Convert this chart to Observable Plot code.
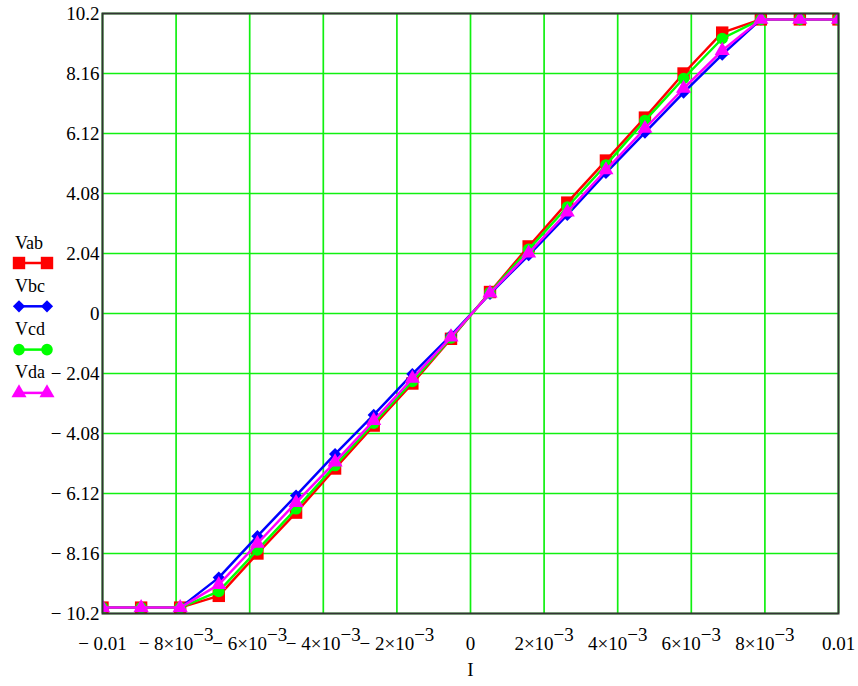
<!DOCTYPE html>
<html><head><meta charset="utf-8">
<script src="https://cdn.jsdelivr.net/npm/d3@7"></script>
<script src="https://cdn.jsdelivr.net/npm/@observablehq/plot@0.6"></script>
<style>
html,body{margin:0;padding:0;background:#fff;}
#chart{position:relative;width:858px;height:686px;}
#legend{position:absolute;left:0;top:0;pointer-events:none;}
</style></head><body><div id="chart"></div>
<script>
// ---- data ----
const I = [-0.01, -0.00895, -0.00789, -0.00684, -0.00579, -0.00474, -0.00368, -0.00263, -0.00158, -0.00053,
           0.00053, 0.00158, 0.00263, 0.00368, 0.00474, 0.00579, 0.00684, 0.00789, 0.00895, 0.01];
const Vab = [-10, -10, -10, -9.6, -8.16, -6.77, -5.27, -3.81, -2.38, -0.86, 0.73, 2.28, 3.77, 5.2, 6.66, 8.16, 9.55, 10, 10, 10];
const Vbc = [-10, -10, -10, -8.98, -7.57, -6.19, -4.78, -3.45, -2.06, -0.74, 0.67, 1.98, 3.35, 4.78, 6.15, 7.51, 8.8, 10, 10, 10];
const Vcd = [-10, -10, -10, -9.45, -8.04, -6.64, -5.17, -3.73, -2.31, -0.83, 0.71, 2.18, 3.62, 5.05, 6.56, 7.99, 9.35, 10, 10, 10];
const Vda = [-10, -10, -10, -9.22, -7.82, -6.43, -5.05, -3.64, -2.21, -0.8, 0.69, 2.05, 3.45, 4.88, 6.29, 7.65, 8.94, 10, 10, 10];

const seriesNames = ["Vab", "Vbc", "Vcd", "Vda"];
const seriesColors = ["#ff0000", "#0000ff", "#00ff00", "#ff00ff"];
const seriesSymbols = ["square", "diamond2", "circle", "triangle"];
const seriesR = [7, 5.5, 5.8, 5.6];

const xTicks = [-0.01, -0.008, -0.006, -0.004, -0.002, 0, 0.002, 0.004, 0.006, 0.008, 0.01];
const xTickLabels = ["\u2212 0.01", "\u2212 8×10^\u22123", "\u2212 6×10^\u22123", "\u2212 4×10^\u22123", "\u2212 2×10^\u22123",
                     "0", "2×10^\u22123", "4×10^\u22123", "6×10^\u22123", "8×10^\u22123", "0.01"];
const yTicks = [-10.2, -8.16, -6.12, -4.08, -2.04, 0, 2.04, 4.08, 6.12, 8.16, 10.2];
const yTickLabels = ["\u2212 10.2", "\u2212 8.16", "\u2212 6.12", "\u2212 4.08", "\u2212 2.04", "0",
                     "2.04", "4.08", "6.12", "8.16", "10.2"];
const xAxisLabel = "I";

// ---- build ----
const FONT = "'Liberation Serif', 'Times New Roman', serif";
const gridColor = "#10f010";
const seriesValues = [Vab, Vbc, Vcd, Vda];
const rows = seriesNames.map((name, s) => I.map((x, i) => ({I: x, V: seriesValues[s][i], name})));
const xLab = new Map(xTicks.map((t, i) => [t, xTickLabels[i]]));
const yLab = new Map(yTicks.map((t, i) => [t, yTickLabels[i]]));

const marks = [
  Plot.gridX(xTicks, {stroke: gridColor, strokeOpacity: 1, strokeWidth: 1.7}),
  Plot.gridY(yTicks, {stroke: gridColor, strokeOpacity: 1, strokeWidth: 1.7})
];
rows.forEach((r, s) => {
  marks.push(Plot.line(r, {x: "I", y: "V", stroke: seriesColors[s], strokeWidth: 2.5, clip: true}));
  marks.push(Plot.dot(r, {x: "I", y: "V", symbol: seriesSymbols[s], fill: seriesColors[s], stroke: "none", r: seriesR[s], clip: true}));
});
marks.push(Plot.frame({stroke: "#333", strokeWidth: 2}));
marks.push(Plot.axisX(xTicks, {tickSize: 0, tickPadding: 23, tickFormat: d => xLab.get(d), fontSize: 19, label: null}));
marks.push(Plot.axisY(yTicks, {tickSize: 0, tickPadding: 3, tickFormat: d => yLab.get(d), fontSize: 19, label: null}));
marks.push(Plot.text([xAxisLabel], {frameAnchor: "bottom", text: d => d, dy: 62, fontSize: 19}));

const svg = Plot.plot({
  width: 858, height: 686,
  marginLeft: 102, marginRight: 20, marginTop: 13, marginBottom: 73,
  x: {domain: [-0.01, 0.01]},
  y: {domain: [-10.2, 10.2]},
  style: {fontFamily: FONT, fontSize: "19px", color: "black", background: "white"},
  marks
});

// superscripts in x tick labels
svg.querySelectorAll('g[aria-label="x-axis tick label"] text').forEach(t => {
  const s = t.textContent;
  const k = s.indexOf("^");
  if (k >= 0) {
    t.textContent = s.slice(0, k);
    const sup = document.createElementNS("http://www.w3.org/2000/svg", "tspan");
    sup.setAttribute("dy", "-0.45em");
    sup.textContent = s.slice(k + 1);
    t.appendChild(sup);
  }
});

const chart = document.getElementById("chart");
chart.appendChild(svg);

// legend (left side)
const lg = d3.select(chart).append("svg").attr("id", "legend").attr("width", 70).attr("height", 420)
  .style("font-family", FONT).style("font-size", "18px");
const symMap = {square: d3.symbolSquare, diamond2: d3.symbolDiamond2, circle: d3.symbolCircle, triangle: d3.symbolTriangle};
seriesNames.forEach((name, s) => {
  const y0 = 249 + s * 43;
  const yl = 263 + s * 43.3;
  lg.append("text").attr("x", 15).attr("y", y0).attr("fill", "black").text(name);
  lg.append("line").attr("x1", 19).attr("x2", 47).attr("y1", yl).attr("y2", yl)
    .attr("stroke", seriesColors[s]).attr("stroke-width", 2.5);
  [19, 47].forEach(xx => {
    lg.append("path")
      .attr("d", d3.symbol(symMap[seriesSymbols[s]], Math.PI * seriesR[s] * seriesR[s])())
      .attr("transform", `translate(${xx},${yl})`)
      .attr("fill", seriesColors[s]);
  });
});
</script></body></html>
